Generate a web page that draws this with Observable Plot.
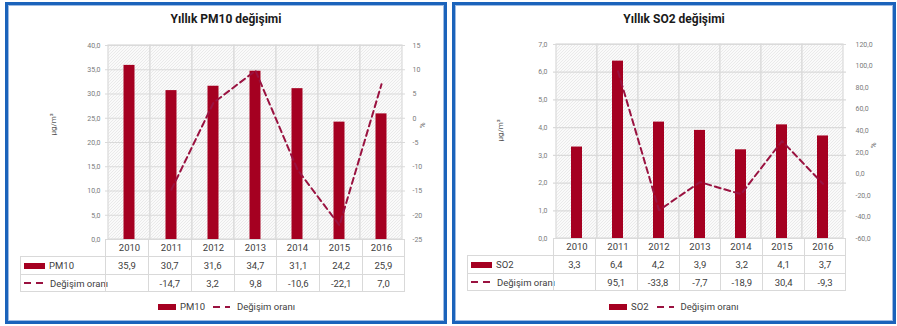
<!DOCTYPE html>
<html>
<head>
<meta charset="utf-8">
<script src="https://cdn.jsdelivr.net/npm/d3@7"></script>
<script src="https://cdn.jsdelivr.net/npm/@observablehq/plot@0.6"></script>
<style>
  html, body { margin: 0; padding: 0; background: #fff; }
  #page { position: relative; width: 897px; height: 326px; overflow: hidden; font-family: Roboto, "Open Sans", sans-serif; }
  .panel { position: absolute; box-sizing: border-box; border: 3px solid #1b63bb; box-shadow: 0 0 0 1px #9dbbe3 inset; }
  .title { position: absolute; text-align: center; font-weight: bold; font-size: 12px; color: #1a1a1a; }
  .chart { position: absolute; top: 0; }
  .tbl { position: absolute; display: grid; font-size: 9.5px; color: #404040; }
  .tbl div { box-sizing: border-box; border-color: #d9d9d9; border-style: solid; border-width: 0; display: flex; align-items: center; justify-content: center; white-space: nowrap; }
  .tbl div.lab { justify-content: flex-start; padding-left: 3px; }
  .legend { position: absolute; display: flex; align-items: center; font-size: 9.5px; color: #404040; white-space: nowrap; }
  .legend span { margin-right: 8px; }
  svg.sw { display: inline-block; margin-right: 4px; flex: none; }
</style>
</head>
<body>
<div id="page"></div>
<script>
// ---- data ----
const years = ["2010", "2011", "2012", "2013", "2014", "2015", "2016"];
const pm10 = [35.9, 30.7, 31.6, 34.7, 31.1, 24.2, 25.9];
const pm10Change = [null, -14.7, 3.2, 9.8, -10.6, -22.1, 7.0];
const so2 = [3.3, 6.4, 4.2, 3.9, 3.2, 4.1, 3.7];
const so2Change = [null, 95.1, -33.8, -7.7, -18.9, 30.4, -9.3];
const pm10LeftTicks = [0, 5, 10, 15, 20, 25, 30, 35, 40];
const pm10RightTicks = [-25, -20, -15, -10, -5, 0, 5, 10, 15];
const so2LeftTicks = [0, 1, 2, 3, 4, 5, 6, 7];
const so2RightTicks = [-60, -40, -20, 0, 20, 40, 60, 80, 100, 120];
const titles = ["Yıllık PM10 değişimi", "Yıllık SO2 değişimi"];
const seriesNames = ["PM10", "SO2"];
const changeName = "Değişim oranı";
const unitLabel = "µg/m³";
const pctLabel = "%";

const barColor = "#a50021";
const lineColor = "#9a1240";
const gridColor = "#dadada";

const f1 = v => v.toFixed(1).replace(".", ",");
const fInt = v => String(v);

const page = document.getElementById("page");

function panel(cfg) {
  const p = document.createElement("div");
  p.className = "panel";
  Object.assign(p.style, {left: cfg.box[0] + "px", top: cfg.box[1] + "px", width: (cfg.box[2] - cfg.box[0]) + "px", height: (cfg.box[3] - cfg.box[1]) + "px"});
  page.appendChild(p);

  const t = document.createElement("div");
  t.className = "title";
  t.textContent = cfg.title;
  Object.assign(t.style, {left: cfg.box[0] + "px", width: (cfg.box[2] - cfg.box[0]) + "px", top: "12px"});
  page.appendChild(t);

  const L = cfg.leftTicks, R = cfg.rightTicks;
  const y0 = L[0], y1 = L[L.length - 1], r0 = R[0], r1 = R[R.length - 1];
  const toP = v => y0 + (v - r0) / (r1 - r0) * (y1 - y0);
  const fromP = q => Math.round((r0 + (q - y0) / (y1 - y0) * (r1 - r0)) * 1000) / 1000;
  const rows = years.map((year, i) => ({year, value: cfg.values[i], change: cfg.change[i]}));

  const svg = Plot.plot({
    width: cfg.width, height: cfg.height,
    marginLeft: cfg.ml, marginRight: cfg.mr, marginTop: cfg.mt, marginBottom: cfg.mb,
    x: {type: "band", domain: years, padding: 0},
    y: {domain: [y0, y1]},
    style: {fontFamily: "Roboto, sans-serif", background: "transparent", overflow: "visible"},
    marks: [
      Plot.barY(years, {x: d => d, y1: y0, y2: y1, fill: `url(#${cfg.id})`, stroke: gridColor, strokeWidth: 1.2}),
      Plot.gridY(L, {stroke: gridColor, strokeOpacity: 1, strokeWidth: 1.2}),
      Plot.barY(rows, {x: "year", y: "value", fill: barColor, insetLeft: cfg.inset, insetRight: cfg.inset}),
      Plot.line(rows, {x: "year", y: d => d.change == null ? NaN : toP(d.change), stroke: lineColor, strokeWidth: 2, strokeDasharray: "6,4"}),
      Plot.axisY(L, {anchor: "left", tickSize: 0, tickPadding: cfg.lp, tickFormat: f1, label: null, fontSize: 7, fill: "#7a7a7a"}),
      Plot.axisY(R.map(toP), {anchor: "right", tickSize: 0, tickPadding: cfg.rp, tickFormat: q => cfg.rightFmt(fromP(q)), label: null, fontSize: 7, fill: "#7a7a7a"}),
      Plot.axisX({tickSize: 0, tickPadding: 5, label: null, fontSize: 9.5, fill: "#404040"}),
      Plot.text([unitLabel], {frameAnchor: "left", dx: cfg.unitDx, dy: cfg.unitDy, rotate: -90, fontSize: 8, fill: "#595959"}),
      Plot.text([pctLabel], {frameAnchor: "right", dx: cfg.pctDx, dy: cfg.pctDy, rotate: -90, fontSize: 8, fill: "#595959"})
    ]
  });
  d3.select(svg).insert("defs", ":first-child").html(
    `<pattern id="${cfg.id}" patternUnits="userSpaceOnUse" width="3" height="3">
       <rect width="3" height="3" fill="#fafafa"/>
       <path d="M-1,1 l2,-2 M0,3 l3,-3 M2,4 l2,-2" stroke="#e6e6e6" stroke-width="0.8"/>
     </pattern>`);
  svg.classList.add("chart");
  svg.style.left = cfg.svgLeft + "px";
  svg.style.position = "absolute";
  svg.style.top = "0px";
  page.appendChild(svg);

  // table
  const tbl = document.createElement("div");
  tbl.className = "tbl";
  const colW = (cfg.width - cfg.ml - cfg.mr) / years.length;
  Object.assign(tbl.style, {
    left: cfg.tblLeft + "px", top: (cfg.height - cfg.mb) + "px",
    gridTemplateColumns: `${cfg.svgLeft + cfg.ml - cfg.tblLeft}px repeat(${years.length}, ${colW}px)`,
    gridTemplateRows: `${cfg.mb}px 18px 18px`
  });
  const n = years.length;
  // year row (labels drawn by Plot's x axis)
  for (let c = 0; c <= n; c++) {
    const d = document.createElement("div");
    if (c > 0) d.style.borderLeftWidth = "1px";
    if (c === n) d.style.borderRightWidth = "1px";
    tbl.appendChild(d);
  }
  const tableRows = [
    {label: cfg.name, swatch: "bar", vals: cfg.values.map(v => f1(v))},
    {label: changeName, swatch: "dash", vals: cfg.change.map(v => v == null ? "" : f1(v))}
  ];
  tableRows.forEach((r, ri) => {
    const lab = document.createElement("div");
    lab.className = "lab";
    lab.style.borderLeftWidth = "1px";
    lab.style.borderTopWidth = "1px";
    if (ri === 1) lab.style.borderBottomWidth = "1px";
    lab.innerHTML = swatch(r.swatch) + `<span>${r.label}</span>`;
    tbl.appendChild(lab);
    r.vals.forEach((v, c) => {
      const d = document.createElement("div");
      d.style.borderLeftWidth = "1px";
      d.style.borderTopWidth = "1px";
      if (c === n - 1) d.style.borderRightWidth = "1px";
      if (ri === 1) d.style.borderBottomWidth = "1px";
      d.textContent = v;
      tbl.appendChild(d);
    });
  });
  page.appendChild(tbl);

  // legend
  const lg = document.createElement("div");
  lg.className = "legend";
  lg.style.left = cfg.legLeft + "px";
  lg.style.top = "301px";
  lg.innerHTML = swatch("bar", 18) + `<span>${cfg.name}</span>` + swatch("dash", 17) + `<span>${changeName}</span>`;
  page.appendChild(lg);
}

function swatch(kind, w) {
  if (kind === "bar") {
    w = w || 21;
    return `<svg class="sw" width="${w}" height="6"><rect width="${w}" height="6" fill="${barColor}"/></svg>`;
  }
  w = w || 19;
  return `<svg class="sw" width="${w + 3}" height="6"><line x1="0" x2="${w}" y1="3" y2="3" stroke="${lineColor}" stroke-width="2" stroke-dasharray="7,5"/></svg>`;
}

panel({
  id: "hatchL", title: titles[0], name: seriesNames[0], values: pm10, change: pm10Change,
  leftTicks: pm10LeftTicks, rightTicks: pm10RightTicks, rightFmt: fInt,
  box: [5, 2, 447, 324], svgLeft: 8, width: 436, height: 256,
  ml: 97, mr: 39, mt: 45, mb: 17, inset: 15.5, lp: 5, rp: 7,
  unitDx: -52, unitDy: -7, pctDx: 17, pctDy: -20,
  tblLeft: 20, legLeft: 158
});
panel({
  id: "hatchR", title: titles[1], name: seriesNames[1], values: so2, change: so2Change,
  leftTicks: so2LeftTicks, rightTicks: so2RightTicks, rightFmt: f1,
  box: [452, 2, 896, 324], svgLeft: 455, width: 438, height: 255,
  ml: 98, mr: 47, mt: 44, mb: 17, inset: 15, lp: 6, rp: 9,
  unitDx: -53, unitDy: 0, pctDx: 27, pctDy: 1,
  tblLeft: 467, legLeft: 609
});
</script>
</body>
</html>
